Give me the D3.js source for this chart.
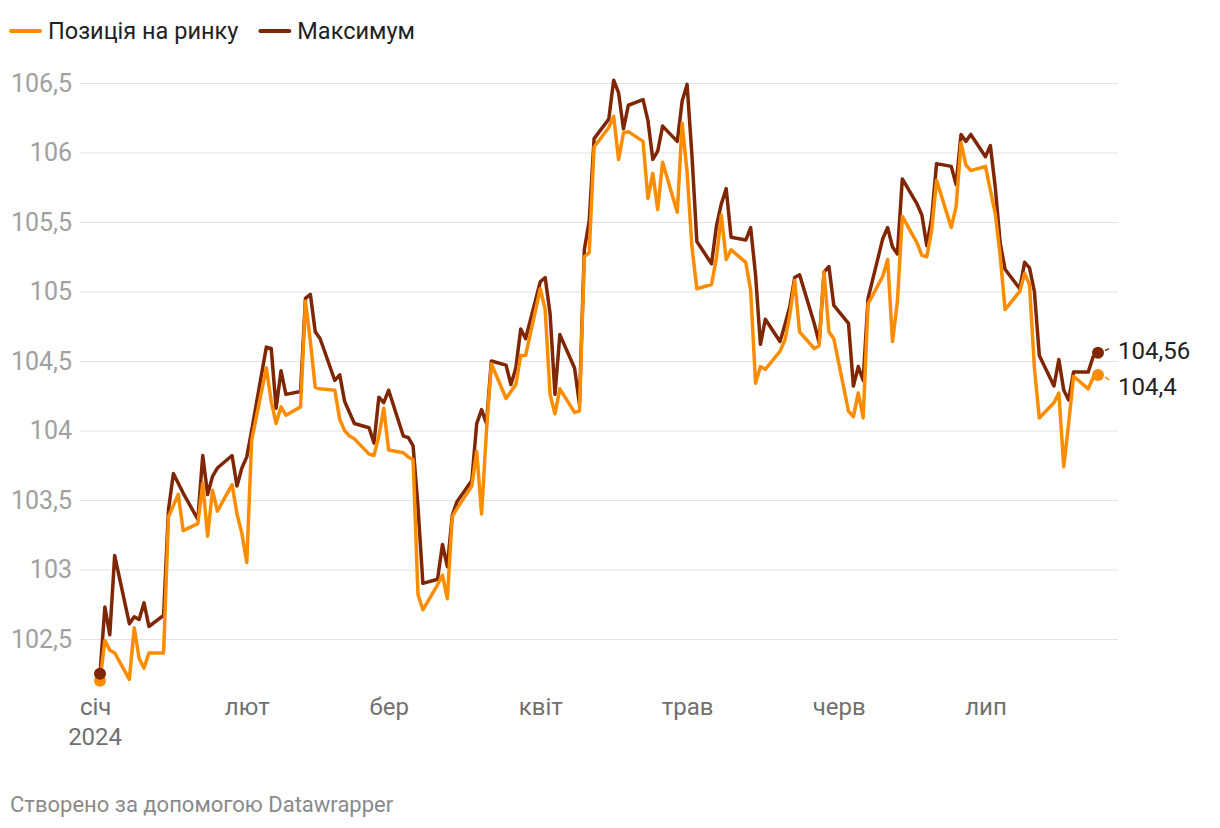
<!DOCTYPE html>
<html>
<head>
<meta charset="utf-8">
<script src="https://cdn.jsdelivr.net/npm/d3@7"></script>
<style>
  html, body { margin: 0; padding: 0; background: #fff; }
  svg { display: block; font-family: Roboto, "Noto Sans", sans-serif; }
</style>
</head>
<body>
<svg id="chart" width="1220" height="828"></svg>
<script>
const dates = [
  "2024-01-02","2024-01-03","2024-01-04","2024-01-05","2024-01-08","2024-01-09","2024-01-10","2024-01-11","2024-01-12",
  "2024-01-15","2024-01-16","2024-01-17","2024-01-18","2024-01-19","2024-01-22","2024-01-23","2024-01-24","2024-01-25","2024-01-26",
  "2024-01-29","2024-01-30","2024-01-31","2024-02-01","2024-02-02","2024-02-05","2024-02-06","2024-02-07","2024-02-08","2024-02-09",
  "2024-02-12","2024-02-13","2024-02-14","2024-02-15","2024-02-16","2024-02-19","2024-02-20","2024-02-21","2024-02-22","2024-02-23",
  "2024-02-26","2024-02-27","2024-02-28","2024-02-29","2024-03-01","2024-03-04","2024-03-05","2024-03-06","2024-03-07","2024-03-08",
  "2024-03-11","2024-03-12","2024-03-13","2024-03-14","2024-03-15","2024-03-18","2024-03-19","2024-03-20","2024-03-21","2024-03-22",
  "2024-03-25","2024-03-26","2024-03-27","2024-03-28","2024-03-29","2024-04-01","2024-04-02","2024-04-03","2024-04-04","2024-04-05",
  "2024-04-08","2024-04-09","2024-04-10","2024-04-11","2024-04-12","2024-04-15","2024-04-16","2024-04-17","2024-04-18","2024-04-19",
  "2024-04-22","2024-04-23","2024-04-24","2024-04-25","2024-04-26","2024-04-29","2024-04-30","2024-05-01","2024-05-02","2024-05-03",
  "2024-05-06","2024-05-07","2024-05-08","2024-05-09","2024-05-10","2024-05-13","2024-05-14","2024-05-15","2024-05-16","2024-05-17",
  "2024-05-20","2024-05-21","2024-05-22","2024-05-23","2024-05-24","2024-05-27","2024-05-28","2024-05-29","2024-05-30","2024-05-31",
  "2024-06-03","2024-06-04","2024-06-05","2024-06-06","2024-06-07","2024-06-10","2024-06-11","2024-06-12","2024-06-13","2024-06-14",
  "2024-06-17","2024-06-18","2024-06-19","2024-06-20","2024-06-21","2024-06-24","2024-06-25","2024-06-26","2024-06-27","2024-06-28",
  "2024-07-01","2024-07-02","2024-07-03","2024-07-04","2024-07-05","2024-07-08","2024-07-09","2024-07-10","2024-07-11","2024-07-12",
  "2024-07-15","2024-07-16","2024-07-17","2024-07-18","2024-07-19","2024-07-22","2024-07-23","2024-07-24"
];
const maxValues = [
  102.25,102.73,102.53,103.10,102.61,102.66,102.64,102.76,102.59,
  102.67,103.43,103.69,103.62,103.55,103.36,103.82,103.54,103.67,103.73,
  103.82,103.60,103.73,103.81,104.00,104.60,104.59,104.16,104.43,104.26,
  104.28,104.95,104.98,104.71,104.66,104.36,104.40,104.21,104.13,104.05,
  104.02,103.91,104.24,104.20,104.29,103.96,103.95,103.89,103.45,102.90,
  102.93,103.18,103.02,103.39,103.49,103.64,104.05,104.15,104.05,104.50,
  104.47,104.33,104.45,104.73,104.66,105.07,105.10,104.84,104.26,104.69,
  104.45,104.19,105.30,105.51,106.10,106.24,106.52,106.43,106.17,106.34,
  106.38,106.23,105.95,106.01,106.19,106.08,106.37,106.49,105.98,105.36,
  105.20,105.47,105.63,105.74,105.39,105.37,105.46,105.12,104.62,104.80,
  104.64,104.76,104.89,105.10,105.12,104.77,104.63,105.14,105.18,104.90,
  104.77,104.32,104.46,104.36,104.95,105.38,105.46,105.32,105.27,105.81,
  105.63,105.55,105.33,105.53,105.92,105.90,105.77,106.13,106.08,106.13,
  105.97,106.05,105.75,105.35,105.16,105.02,105.21,105.17,105.00,104.54,
  104.32,104.51,104.29,104.22,104.42,104.42,104.53,104.56
];
const positionValues = [
  102.20,102.49,102.42,102.40,102.21,102.58,102.36,102.29,102.40,
  102.40,103.38,103.46,103.54,103.28,103.33,103.62,103.24,103.57,103.42,
  103.61,103.40,103.26,103.05,103.93,104.45,104.21,104.05,104.17,104.11,
  104.17,104.93,104.64,104.31,104.30,104.29,104.08,104.00,103.96,103.94,
  103.83,103.82,103.96,104.16,103.86,103.84,103.81,103.79,102.82,102.71,
  102.89,102.96,102.79,103.38,103.44,103.60,103.85,103.40,104.00,104.48,
  104.23,104.28,104.33,104.54,104.54,105.02,104.87,104.26,104.12,104.30,
  104.13,104.14,105.25,105.28,106.04,106.18,106.26,105.95,106.14,106.15,
  106.08,105.67,105.85,105.59,105.93,105.57,106.21,105.86,105.32,105.02,
  105.05,105.24,105.55,105.23,105.30,105.21,105.01,104.34,104.46,104.44,
  104.57,104.65,104.83,105.08,104.71,104.59,104.61,105.14,104.71,104.66,
  104.14,104.10,104.27,104.09,104.91,105.11,105.23,104.64,104.93,105.54,
  105.35,105.26,105.25,105.44,105.80,105.46,105.61,106.07,105.91,105.87,
  105.90,105.73,105.56,105.26,104.87,105.00,105.13,105.05,104.45,104.09,
  104.20,104.27,103.74,104.05,104.39,104.30,104.38,104.40
];
const seriesNames = ["Позиція на ринку", "Максимум"];
const seriesColors = ["#fa8c00", "#7f2704"];
const yTicks = [102.5, 103, 103.5, 104, 104.5, 105, 105.5, 106, 106.5];
const monthTicks = ["2024-01-01","2024-02-01","2024-03-01","2024-04-01","2024-05-01","2024-06-01","2024-07-01"];
const monthLabels = ["січ","лют","бер","квіт","трав","черв","лип"];
const yearLabel = "2024";
const footerText = "Створено за допомогою Datawrapper";

const parse = d3.utcParse("%Y-%m-%d");
const dateObjs = dates.map(parse);
const fmt = v => String(v).replace(".", ",");

const svg = d3.select("#chart");
const left = 80, right = 1118;

const x = d3.scaleUtc()
  .domain([dateObjs[0], dateObjs[dateObjs.length - 1]])
  .range([100, 1098]);
const y = d3.scaleLinear().domain([102.5, 106.5]).range([639, 83]);

// Y axis with gridlines
const yAxis = svg.append("g")
  .attr("transform", `translate(${left},0)`)
  .call(d3.axisLeft(y).tickValues(yTicks).tickSize(-(right - left)).tickPadding(8).tickFormat(fmt));
yAxis.select(".domain").remove();
yAxis.selectAll(".tick line").attr("stroke", "#e2e2e2").attr("stroke-width", 1);
yAxis.selectAll(".tick text")
  .attr("fill", "#a0a0a0")
  .style("font-size", "25px")
  .style("font-family", "Roboto, sans-serif");

// X axis
const xAxis = svg.append("g")
  .attr("transform", "translate(0,696)")
  .call(d3.axisBottom(x).tickValues(monthTicks.map(parse)).tickSize(0).tickPadding(0)
    .tickFormat((d, i) => monthLabels[i]));
xAxis.select(".domain").remove();
xAxis.selectAll(".tick text")
  .attr("fill", "#707070")
  .attr("y", 0).attr("dy", "0.8em")
  .style("font-size", "24px")
  .style("font-family", "Roboto, sans-serif");
xAxis.append("text")
  .attr("x", x(parse(monthTicks[0])))
  .attr("y", 0).attr("dy", "2.05em")
  .attr("text-anchor", "middle")
  .attr("fill", "#707070")
  .style("font-size", "24px")
  .style("font-family", "Roboto, sans-serif")
  .text(yearLabel);

// Lines
const line = d3.line().x((d, i) => x(dateObjs[i])).y(d => y(d));
const seriesValues = [positionValues, maxValues];

[1, 0].forEach(s => {
  svg.append("path")
    .datum(seriesValues[s])
    .attr("d", line)
    .attr("fill", "none")
    .attr("stroke", seriesColors[s])
    .attr("stroke-width", 3.5)
    .attr("stroke-linejoin", "round")
    .attr("stroke-linecap", "round");
});

// dots start and end
[0, 1].forEach(s => {
  const vals = seriesValues[s];
  const n = vals.length;
  [0, n - 1].forEach(i => {
    svg.append("circle")
      .attr("cx", x(dateObjs[i]))
      .attr("cy", y(vals[i]))
      .attr("r", 6)
      .attr("fill", seriesColors[s]);
  });
});

// End labels
const lastI = dates.length - 1;
const lx = x(dateObjs[lastI]);
const labelOffsets = [{ s: 1, dy: -2 }, { s: 0, dy: 12 }];
labelOffsets.forEach(o => {
  const vals = seriesValues[o.s];
  const cy = y(vals[lastI]);
  svg.append("line")
    .attr("x1", lx + 7).attr("y1", cy + (o.dy < 0 ? -2 : 2))
    .attr("x2", lx + 11).attr("y2", cy + (o.dy < 0 ? -4 : 5))
    .attr("stroke", seriesColors[o.s]).attr("stroke-width", 1.5);
  svg.append("text")
    .attr("x", lx + 20)
    .attr("y", cy + o.dy)
    .attr("dy", "0.35em")
    .attr("fill", "#222")
    .style("font-size", "24px")
    .style("font-family", "Roboto, sans-serif")
    .text(fmt(vals[lastI]));
});

// Legend
const legend = svg.append("g").attr("transform", "translate(10,31)");
let lxPos = 0;
seriesNames.forEach((name, i) => {
  const g = legend.append("g").attr("transform", `translate(${lxPos},0)`);
  g.append("line").attr("x1", 1).attr("x2", 30).attr("y1", 0).attr("y2", 0)
    .attr("stroke", seriesColors[i]).attr("stroke-width", 4).attr("stroke-linecap", "round");
  const t = g.append("text").attr("x", 38).attr("y", 0).attr("dy", "0.35em")
    .attr("fill", "#222")
    .style("font-size", "23.5px")
    .style("font-family", "Roboto, sans-serif")
    .text(name);
  lxPos += 38 + t.node().getComputedTextLength() + 21;
});

// Footer
svg.append("text")
  .attr("x", 10).attr("y", 804).attr("dy", "0.35em")
  .attr("fill", "#8a8a8a")
  .style("font-size", "22px")
  .style("font-family", "Roboto, sans-serif")
  .text(footerText);
</script>
</body>
</html>
